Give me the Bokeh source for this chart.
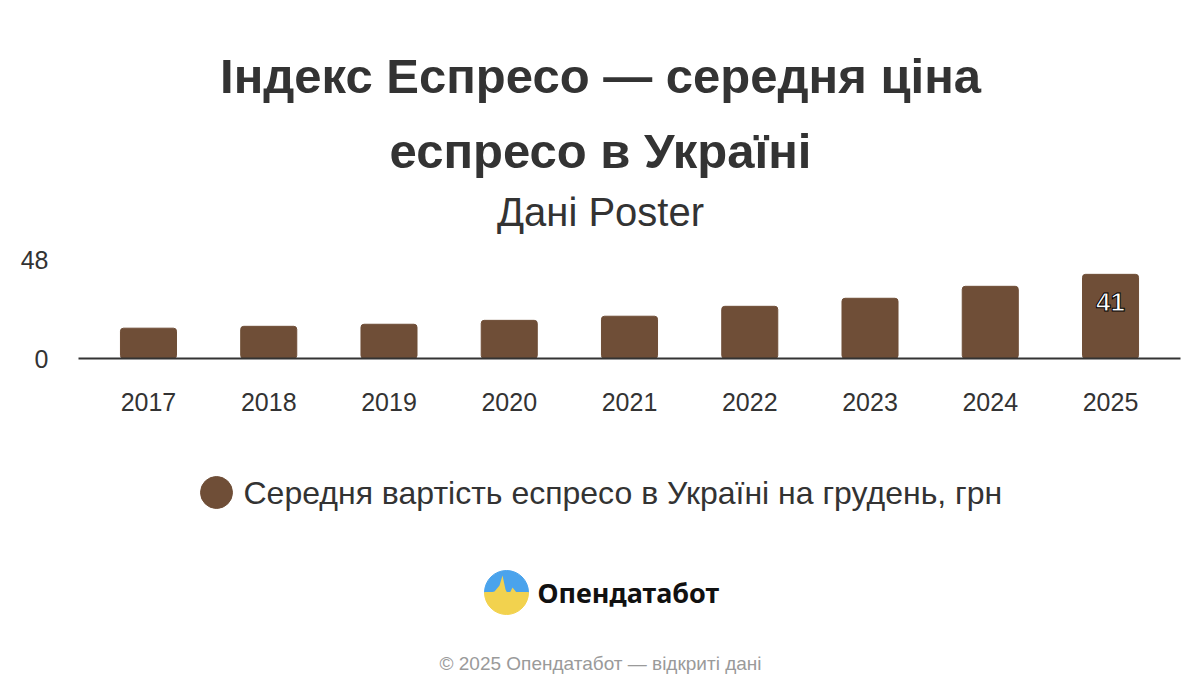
import math
from bokeh.plotting import figure
from bokeh.layouts import column
from bokeh.models import ColumnDataSource, FactorRange, FixedTicker, Range1d
from bokeh.core.properties import value
from bokeh.embed import file_html
from bokeh.resources import INLINE

# ---- data ----
years = ["2017", "2018", "2019", "2020", "2021", "2022", "2023", "2024", "2025"]
prices = [14.7, 15.6, 16.6, 18.5, 20.5, 25.3, 29.2, 35.0, 40.8]
y_ticks = [0, 48]
title_lines = ["Індекс Еспресо — середня ціна", "еспресо в Україні"]
subtitle = "Дані Poster"
series_name = "Середня вартість еспресо в Україні на грудень, грн"
brand = "Опендатабот"
footer = "© 2025 Опендатабот — відкриті дані"

FONT = "Liberation Sans"
BAR = "#6f4e37"
TXT = "#333333"
W = 1184
FL, FR = 78, 1180   # frame edges (the column aligns all frames to these)


def blank(height):
    f = figure(width=W, height=height, output_backend="svg", toolbar_location=None,
               x_range=Range1d(FL, FR), y_range=Range1d(height, 0),
               min_border_left=FL, min_border_right=W - FR,
               min_border_top=0, min_border_bottom=0)
    f.axis.visible = False
    f.grid.visible = False
    f.outline_line_color = None
    f.background_fill_color = "white"
    f.border_fill_color = "white"
    return f


# ---- header ----
TOP_H = 239
top = blank(TOP_H)
top.text(x=[600, 600], y=[75, 150], text=title_lines, text_align="center",
         text_baseline="middle", text_font=value(FONT), text_font_style="bold",
         text_font_size="49px", text_color=TXT)
top.text(x=[600], y=[211], text=[subtitle], text_align="center",
         text_baseline="middle", text_font=value(FONT),
         text_font_size="40px", text_color=TXT)

# ---- main chart ----
src = ColumnDataSource(dict(year=years, price=prices))
lbl_src = ColumnDataSource(dict(year=[years[-1]], price=[prices[-1]],
                                txt=[f"{round(prices[-1]):d}"]))

p = figure(width=W, height=200, output_backend="svg", toolbar_location=None,
           x_range=FactorRange(factors=years, range_padding=0.0182,
                               range_padding_units="percent"),
           y_range=(0, 48),
           min_border_left=FL, min_border_right=W - FR,
           min_border_top=20, min_border_bottom=81)
p.outline_line_color = None
p.background_fill_color = "white"
p.border_fill_color = "white"

p.vbar(x="year", top="price", source=src, width=0.466, color=BAR,
       border_radius=3)

p.text(x="year", y="price", text="txt", source=lbl_src, y_offset=28,
       text_align="center", text_baseline="middle",
       text_font=value(FONT), text_font_style="bold", text_font_size="26px",
       text_color="white", text_outline_color="black")

p.yaxis.ticker = FixedTicker(ticks=y_ticks)
p.yaxis.axis_line_color = None
p.yaxis.major_tick_line_color = None
p.yaxis.major_tick_out = 0
p.yaxis.minor_tick_line_color = None
p.yaxis.major_label_standoff = 30
p.yaxis.major_label_text_font = FONT
p.yaxis.major_label_text_font_size = "25px"
p.yaxis.major_label_text_color = TXT

p.xaxis.axis_line_color = TXT
p.xaxis.axis_line_width = 2
p.xaxis.major_tick_line_color = None
p.xaxis.major_tick_out = 0
p.xaxis.minor_tick_line_color = None
p.xaxis.major_label_standoff = 34
p.xaxis.major_label_text_font = FONT
p.xaxis.major_label_text_font_size = "25px"
p.xaxis.major_label_text_color = TXT

p.xgrid.grid_line_color = None
p.ygrid.grid_line_color = "#e6e6e6"
p.ygrid.grid_line_width = 2

# ---- legend / logo / footer ----
BOT_H = 245
bot = blank(BOT_H)
bot.scatter(x=[216], y=[53], size=32, marker="circle", color=BAR)
bot.text(x=[243], y=[53], text=[series_name], text_align="left",
         text_baseline="middle", text_font=value(FONT),
         text_font_size="32px", text_color=TXT)

# logo: blue top, yellow bottom, with a pulse spike
bot.wedge(x=[506], y=[153], radius=22, radius_units="screen",
          start_angle=0, end_angle=math.pi, direction="anticlock",
          color="#4aa3ec")
bot.wedge(x=[506], y=[153], radius=22, radius_units="screen",
          start_angle=math.pi, end_angle=2 * math.pi, direction="anticlock",
          color="#f2d24e")
bot.patch(x=[486, 494, 499, 502, 505, 508, 512, 516, 526, 526, 486],
          y=[154, 152, 146, 136, 150, 156, 148, 153, 154, 160, 160],
          color="#f2d24e", line_color=None)
bot.text(x=[537], y=[153], text=[brand], text_align="left",
         text_baseline="middle", text_font=value("Noto Sans"),
         text_font_style="bold", text_font_size="27px", text_color="#111111")

bot.text(x=[600], y=[224], text=[footer], text_align="center",
         text_baseline="middle", text_font=value(FONT),
         text_font_size="19px", text_color="#9a9a9a")

layout = column(top, p, bot, spacing=0)
open("out.html", "w").write(file_html(layout, INLINE))
